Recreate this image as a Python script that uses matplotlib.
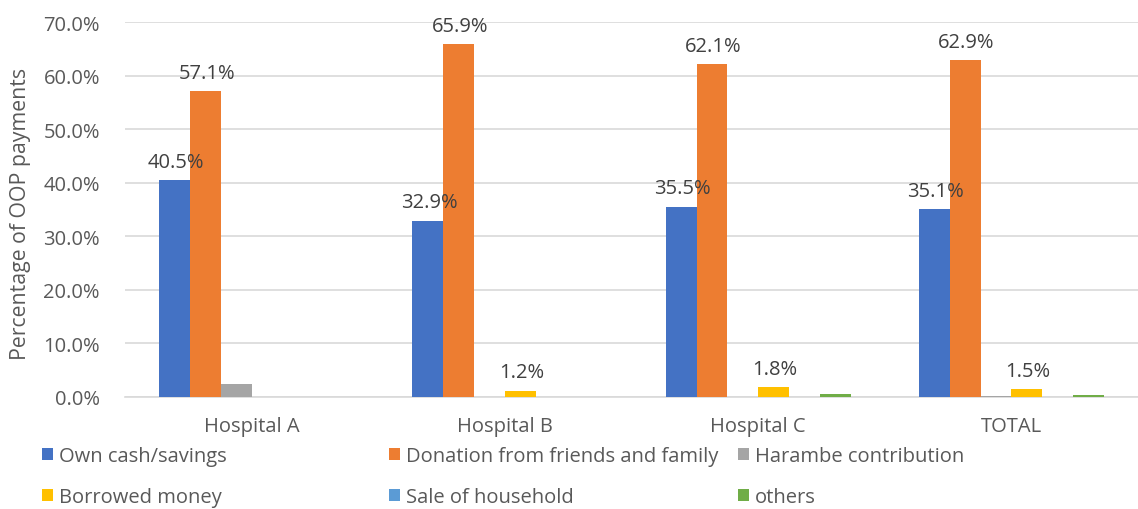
import matplotlib
matplotlib.use("Agg")
import matplotlib.pyplot as plt
from matplotlib.patches import Patch
import numpy as np

plt.rcParams['font.family'] = ['Open Sans', 'DejaVu Sans']

categories = ["Hospital A", "Hospital B", "Hospital C", "TOTAL"]
series_names = ["Own cash/savings", "Donation from friends and family", "Harambe contribution",
                "Borrowed money", "Sale of household", "others"]
own_cash = [40.5, 32.9, 35.5, 35.1]
donation = [57.1, 65.9, 62.1, 62.9]
harambe = [2.4, 0.0, 0.0, 0.1]
borrowed = [0.0, 1.2, 1.8, 1.5]
sale = [0.0, 0.0, 0.0, 0.0]
others = [0.0, 0.0, 0.6, 0.4]
series_values = [own_cash, donation, harambe, borrowed, sale, others]
labelled = [True, True, False, True, False, False]
colors = ["#4472C4", "#ED7D31", "#A5A5A5", "#FFC000", "#5B9BD5", "#70AD47"]
yticks = [0, 10, 20, 30, 40, 50, 60, 70]

FS = 14.5
W, H = 1138, 510
fig = plt.figure(figsize=(W / 100, H / 100), dpi=100)
ax = fig.add_axes([125 / W, 1 - 398 / H, (W - 125) / W, (398 - 23) / H])

x = np.arange(len(categories))
bw = 0.1216
text_color = "#404040"
for i, (vals, col) in enumerate(zip(series_values, colors)):
    offs = (i - 2.5) * bw
    ax.bar(x + offs, vals, width=bw, color=col, zorder=3)
    if labelled[i]:
        for xi, v in zip(x, vals):
            if v > 0:
                ax.annotate(f"{v:.1f}%", (xi + offs, v), xytext=(1, 6), textcoords="offset points",
                            ha="center", va="bottom", fontsize=FS, color=text_color, zorder=6)

ax.set_xlim(-0.5, len(categories) - 0.5)
ax.set_ylim(0, 70)
ax.set_yticks(yticks)
ax.set_yticklabels([f"{t:.1f}%" for t in yticks])
ax.set_xticks(x)
ax.set_xticklabels(categories)
ax.tick_params(axis='both', length=0, labelsize=FS, labelcolor="#595959")
ax.tick_params(axis='x', pad=14)
ax.tick_params(axis='y', pad=18)
ax.yaxis.grid(True, color="#D9D9D9", linewidth=1.2, zorder=0)
ax.set_axisbelow(True)
for s in ["top", "right", "left"]:
    ax.spines[s].set_visible(False)
ax.spines["bottom"].set_color("#D9D9D9")
ax.spines["bottom"].set_linewidth(1.2)
ax.set_ylabel("Percentage of OOP payments", fontsize=15.3, color="#595959")
ax.yaxis.set_label_coords(-94 / (W - 125), 0.49)

handles = [Patch(facecolor=c, edgecolor='none') for c in colors]
col_x = [42, 389, 738]
for c in range(3):
    idx = [c, c + 3]
    leg = fig.legend([handles[k] for k in idx], [series_names[k] for k in idx],
                     loc="upper left", bbox_to_anchor=(col_x[c] / W, 1 - 447 / H),
                     frameon=False, fontsize=FS, handlelength=0.55, handleheight=0.55,
                     handletextpad=0.3, labelspacing=1.05, borderaxespad=0, borderpad=0)
    for t in leg.get_texts():
        t.set_color("#595959")

fig.savefig("out.png", dpi=100)
